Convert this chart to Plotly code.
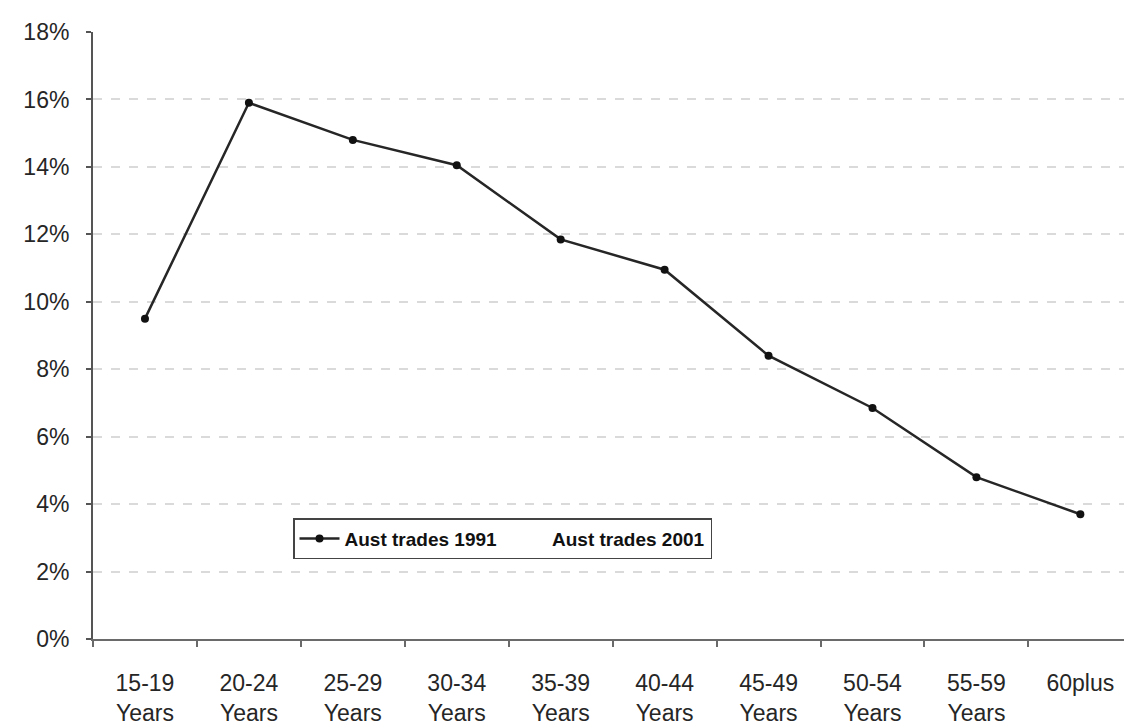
import plotly.graph_objects as go

# Age bands and share of tradespeople in each band
age_groups = ["15-19<br>Years", "20-24<br>Years", "25-29<br>Years", "30-34<br>Years",
              "35-39<br>Years", "40-44<br>Years", "45-49<br>Years", "50-54<br>Years",
              "55-59<br>Years", "60plus"]
trades_1991 = [9.5, 15.9, 14.8, 14.05, 11.85, 10.95, 8.4, 6.85, 4.8, 3.7]
trades_2001 = [None]  # no plotted points for 2001

y_ticks = [0, 2, 4, 6, 8, 10, 12, 14, 16, 18]
y_tick_text = [f"{v}%" for v in y_ticks]

font_family = "Liberation Sans, Arial, sans-serif"

fig = go.Figure()
fig.add_trace(go.Scatter(
    x=age_groups, y=trades_1991, name="Aust trades 1991",
    mode="lines+markers",
    line=dict(color="#262626", width=2.5),
    marker=dict(color="#111111", size=8, symbol="circle"),
))
fig.add_trace(go.Scatter(
    x=age_groups[:len(trades_2001)], y=trades_2001, name="Aust trades 2001",
    mode="lines", line=dict(color="rgba(255,255,255,0)", width=2),
    showlegend=True,
))

fig.update_layout(
    width=1124, height=726,
    margin=dict(l=93, r=0, t=32, b=85),
    paper_bgcolor="white", plot_bgcolor="white",
    font=dict(family=font_family, color="#222222"),
    showlegend=True,
    legend=dict(
        orientation="h",
        x=0.194, xanchor="left",
        y=0.199, yanchor="top",
        bordercolor="#444444", borderwidth=1.5,
        bgcolor="white",
        font=dict(family=font_family, size=19, color="#111111", weight="bold"),
        itemwidth=40,
        tracegroupgap=0,
    ),
    xaxis=dict(
        type="category",
        range=[-0.5, 9.42],
        showgrid=False,
        showline=True, linecolor="#6a6a6a", linewidth=2,
        ticks="outside", ticklen=6, tickcolor="#6a6a6a", tickwidth=1.5,
        tickson="boundaries",
        tickfont=dict(size=23, color="#262626"),
        ticklabelstandoff=22,
        zeroline=False,
    ),
    yaxis=dict(
        range=[0, 18],
        tickvals=y_ticks, ticktext=y_tick_text,
        showgrid=True, gridcolor="#dadada", gridwidth=1.5, griddash="dash",
        showline=True, linecolor="#555555", linewidth=2,
        ticks="outside", ticklen=5, tickcolor="#555555", tickwidth=1.5,
        tickfont=dict(size=23, color="#262626"),
        ticklabelstandoff=12,
        zeroline=False,
    ),
)

fig.write_html("out.html")
